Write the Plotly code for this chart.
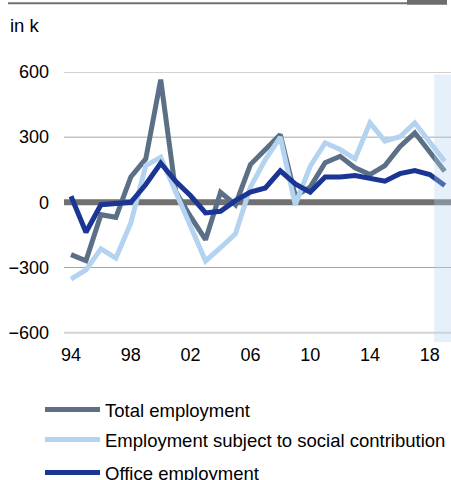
import plotly.graph_objects as go

# Daten (in Tausend), Jahre 1994-2019
years = list(range(1994, 2020))
total = [-241, -269, -57, -69, 117, 200, 565, 50, -66, -172, 46, -11, 174, 240,
         312, 30, 70, 182, 212, 159, 128, 169, 256, 320, 235, 143]
social = [-354, -311, -214, -257, -95, 169, 207, 48, -109, -270, -209, -145, 70, 197,
          300, -11, 166, 274, 243, 200, 366, 282, 302, 366, 277, 189]
office = [28, -138, -11, -3, 0, 82, 180, 97, 30, -49, -41, 8, 47, 66,
          145, 85, 47, 117, 117, 123, 112, 97, 132, 146, 128, 77]

tick_years = [1994, 1998, 2002, 2006, 2010, 2014, 2018]
tick_text = ["94", "98", "02", "06", "10", "14", "18"]
y_ticks = [-600, -300, 0, 300, 600]

names = ["Total employment", "Employment subject to social contribution", "Office employment"]
colors = ["#5b7086", "#b4d3f0", "#1b3594"]
FONT = "Arial, Liberation Sans, sans-serif"

fig = go.Figure()

# Gitterlinien
for v in [600, 300, -300]:
    fig.add_shape(type="line", xref="paper", x0=0, x1=1, yref="y", y0=v, y1=v,
                  line=dict(color="#a6a6a6", width=1), layer="below")
fig.add_shape(type="line", xref="paper", x0=0, x1=1, yref="y", y0=-600, y1=-600,
              line=dict(color="#d4d4d4", width=2), layer="below")
fig.add_shape(type="line", xref="paper", x0=0, x1=1, yref="y", y0=0, y1=0,
              line=dict(color="#707070", width=6), layer="below")

series = [total, social, office]
legends = ["legend", "legend2", "legend3"]
for name, vals, col, lg in zip(names, series, colors, legends):
    fig.add_trace(go.Scatter(x=years, y=vals, name=name, mode="lines", showlegend=True,
                             line=dict(color=col, width=5), legend=lg))

# Prognose-Bereich
fig.add_shape(type="rect", xref="x", x0=2018.3, x1=2019.6, yref="y", y0=-643, y1=588,
              fillcolor="rgba(180,211,240,0.34)", line=dict(width=0), layer="above")

# Kopfzeile
fig.add_shape(type="line", xref="paper", x0=-0.1447, x1=0.8863, yref="paper", y0=1.2545, y1=1.2545,
              line=dict(color="#707070", width=2))
fig.add_shape(type="rect", xref="paper", x0=0.8863, x1=0.9897, yref="paper", y0=1.249, y1=1.27,
              fillcolor="#6e6e6e", line=dict(width=0))

fig.add_annotation(text="in k", xref="paper", yref="paper", x=-0.1447, y=1.174,
                   xanchor="left", yanchor="middle", showarrow=False,
                   font=dict(size=18.5, color="#000000", family=FONT))

leg = dict(bgcolor="rgba(0,0,0,0)", font=dict(size=18.5, color="#000000", family=FONT),
           itemwidth=55, xanchor="left", yanchor="middle", x=-0.062, visible=True)
fig.update_layout(
    width=451, height=480, showlegend=True,
    margin=dict(l=64, r=0, t=72, b=138, autoexpand=False),
    plot_bgcolor="white", paper_bgcolor="white",
    font=dict(family=FONT, size=18, color="#000000"),
    xaxis=dict(range=[1993.53, 2019.42], tickvals=tick_years, ticktext=tick_text,
               showgrid=False, zeroline=False, showline=False, ticks="", automargin=False),
    yaxis=dict(range=[-643, 600], tickvals=y_ticks, showgrid=False, zeroline=False,
               showline=False, ticks="", ticklabelstandoff=14, automargin=False),
    legend=dict(leg, y=-0.2519),
    legend2=dict(leg, y=-0.363),
    legend3=dict(leg, y=-0.485),
)

fig.write_html("out.html", config={"displayModeBar": False},
               post_script="document.body.style.margin='0px';")
